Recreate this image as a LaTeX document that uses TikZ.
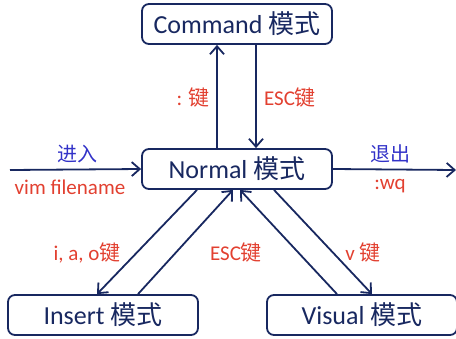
\documentclass[tikz,border=0pt]{standalone}
\usepackage{fontspec}
\setmainfont{Carlito}
\newfontfamily\cjk{Noto Sans CJK SC}
\usetikzlibrary{arrows.meta}

\definecolor{navy}{RGB}{24,40,96}
\definecolor{keyred}{RGB}{226,64,48}
\definecolor{actblue}{RGB}{50,50,200}

\tikzstyle{mode} = [draw=navy, text=navy, line width=1.8pt, rounded corners=7pt, minimum width=190pt, minimum height=40pt, inner sep=0pt, font=\fontsize{26}{28}\selectfont]
\tikzstyle{key} = [text=keyred, font=\fontsize{21}{24}\selectfont]
\tikzstyle{act} = [text=actblue, font=\fontsize{20}{24}\selectfont]
\tikzstyle{link} = [draw=navy, line width=1.8pt, -{Straight Barb[length=8pt,width=14pt,line width=1.8pt]}]

\begin{document}
\begin{tikzpicture}[x=1pt, y=-1pt]
        \useasboundingbox (0,0) rectangle (456,338);
        % the four modes
        \node (cmd) at (237,24) [mode] {Command {\cjk 模式}};
        \node (normal) at (237,169) [mode] {Normal {\cjk 模式}};
        \node (ins) at (103,315) [mode] {Insert {\cjk 模式}};
        \node (vis) at (362,315) [mode] {Visual {\cjk 模式}};

        % enter and leave
        \coordinate (start) at (10,170);
        \coordinate (stop) at (456,170);
        \draw[link] (start) -- (normal.west);
        \draw[link] (normal.east) -- (stop);
        \node at (77,154) [act] {\cjk 进入};
        \node at (70,187) [key] {vim filename};
        \node at (390,154) [act] {\cjk 退出};
        \node at (390,186) [key] {:wq};

        % normal <-> command
        \draw[link] ([xshift=-20pt]normal.north) -- ([xshift=-20pt]cmd.south);
        \draw[link] ([xshift=19pt]cmd.south) -- ([xshift=19pt]normal.north);
        \node at (193,98) [key] {: {\cjk 键}};
        \node at (290,98) [key] {ESC{\cjk 键}};

        % normal <-> insert, visual
        \draw[link] ([xshift=-40pt]normal.south) -- ([xshift=-6pt]ins.north);
        \draw[link] ([xshift=35pt]ins.north) -- ([xshift=-4pt]normal.south);
        \draw[link] ([xshift=-25pt]vis.north) -- ([xshift=3pt]normal.south);
        \draw[link] ([xshift=37pt]normal.south) -- ([xshift=10pt]vis.north);
        \node at (87,253) [key] {i, a, o{\cjk 键}};
        \node at (236,253) [key] {ESC{\cjk 键}};
        \node at (363,253) [key] {v {\cjk 键}};
\end{tikzpicture}
\end{document}
